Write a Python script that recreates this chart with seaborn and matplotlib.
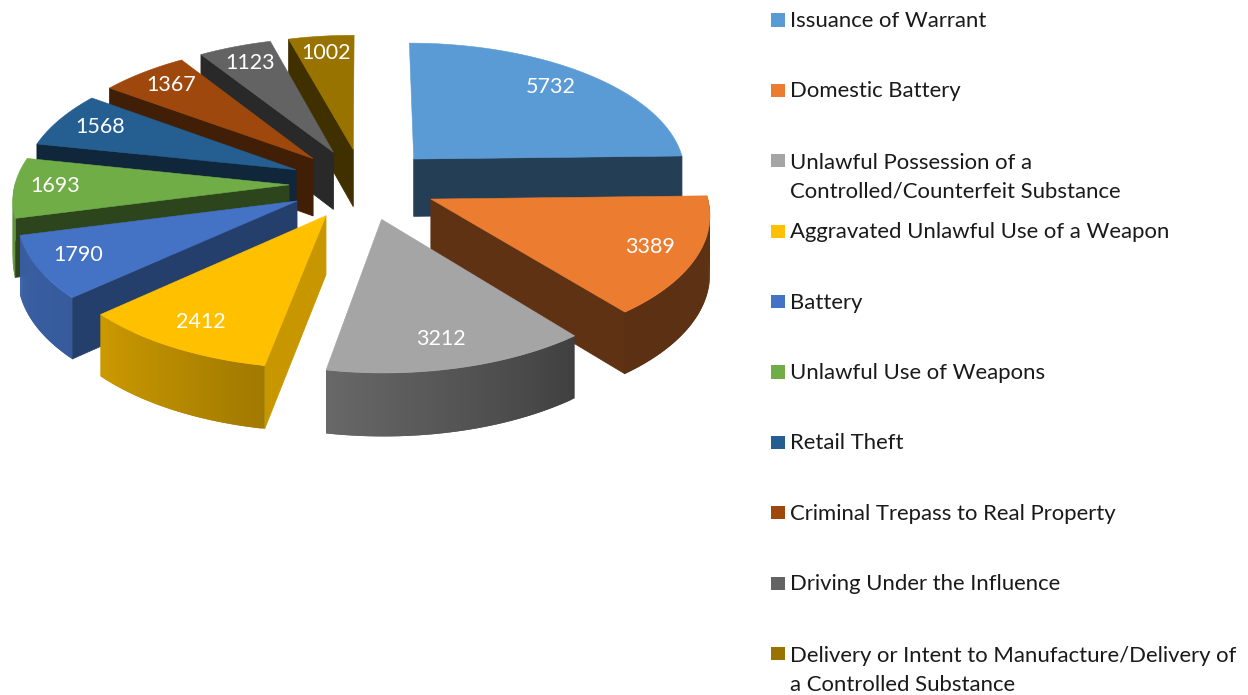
import numpy as np
import pandas as pd
import matplotlib.pyplot as plt
import seaborn as sns

categories = [
    "Issuance of Warrant",
    "Domestic Battery",
    "Unlawful Possession of a\nControlled/Counterfeit Substance",
    "Aggravated Unlawful Use of a Weapon",
    "Battery",
    "Unlawful Use of Weapons",
    "Retail Theft",
    "Criminal Trepass to Real Property",
    "Driving Under the Influence",
    "Delivery or Intent to Manufacture/Delivery of\na Controlled Substance",
]
counts = [5732, 3389, 3212, 2412, 1790, 1693, 1568, 1367, 1123, 1002]
colors = ["#5B9BD5", "#EB7C30", "#A5A5A5", "#FFC000", "#4472C4",
          "#70AD47", "#255E91", "#9E480E", "#636363", "#997300"]
# small hand nudges for the value labels, in pixels
label_nudge = [-8, 1, -4, 0, -5, -6, 1, 1, 0, 0]

sns.set_theme(style="white")
plt.rcParams["font.family"] = ["Lato", "DejaVu Sans"]

W, H = 1248, 695
# camera fitted to the picture: pixels per pie radius, perspective, wall height
CX, CY, FX, FY, PERSP, DEPTH, EXPLODE = 363, 184, 274, 131.6, 0.096, 58, 0.27


def project(x, y, z=0.0):
    s = 1 / (1 + PERSP * y)
    return CX + FX * x * s, CY - FY * y * s + DEPTH * z * s ** 0.7


def shaded(color, k):
    return tuple(c * k for c in sns.color_palette([color])[0])


def wall_shade(deg):
    return np.interp(deg, [90, 141, 190, 228, 270], [0.40, 0.39, 0.63, 0.80, 0.85])


def start_face_shade(deg):
    return np.interp(deg, [190, 228, 254, 360], [0.79, 0.55, 0.40, 0.42])


fig = plt.figure(figsize=(W / 100, H / 100), dpi=100)
ax = fig.add_axes([0, 0, 1, 1])
ax.set_xlim(0, W)
ax.set_ylim(H, 0)
ax.axis("off")

total = sum(counts)
edges = np.concatenate([[0], np.cumsum(counts)]) / total * 360
mids = (edges[:-1] + edges[1:]) / 2

# far slices first so the near ones paint over them
for i in np.argsort(-np.cos(np.radians(mids))):
    a0, a1, mid = edges[i], edges[i + 1], mids[i]
    col = colors[i]
    ox = EXPLODE * np.sin(np.radians(mid))
    oy = EXPLODE * np.cos(np.radians(mid))
    arc = np.linspace(a0, a1, 60)
    arc_x = ox + np.sin(np.radians(arc))
    arc_y = oy + np.cos(np.radians(arc))

    # flat cut faces, only when they look towards the viewer
    for ang, sign in ((a0, -1), (a1, 1)):
        if np.cos(np.radians(ang + sign * 90)) < 0:
            ex = ox + np.sin(np.radians(ang))
            ey = oy + np.cos(np.radians(ang))
            pts = [project(ox, oy), project(ex, ey), project(ex, ey, 1), project(ox, oy, 1)]
            k = start_face_shade(ang) if sign < 0 else 0.40
            ax.fill(*zip(*pts), color=shaded(col, k), lw=0.6, zorder=2)

    # outer wall in short overlapping pieces, this gives the gradient without seams
    for j in range(len(arc) - 1):
        if np.cos(np.radians((arc[j] + arc[j + 1]) / 2)) < 0.02:
            j2 = min(j + 2, len(arc) - 1)
            pts = [project(arc_x[j], arc_y[j]), project(arc_x[j2], arc_y[j2]),
                   project(arc_x[j2], arc_y[j2], 1), project(arc_x[j], arc_y[j], 1)]
            ax.fill(*zip(*pts), facecolor=shaded(col, wall_shade(arc[j])), edgecolor="none",
                    lw=0, zorder=2)

    top = [project(ox, oy)] + [project(x, y) for x, y in zip(arc_x, arc_y)]
    ax.fill(*zip(*top), color=col, lw=0.4, zorder=2)

    lx, ly = project((EXPLODE + 0.83) * np.sin(np.radians(mid)),
                     (EXPLODE + 0.83) * np.cos(np.radians(mid)))
    ax.text(lx + label_nudge[i], ly - 1, str(counts[i]), color="white", fontsize=15.5,
            ha="center", va="center", zorder=5)

# legend rows
legend_rows = 20 + 70.4 * np.arange(len(categories))
legend_df = pd.DataFrame({"x": 778, "y": legend_rows, "cat": categories})
sns.scatterplot(data=legend_df, x="x", y="y", hue="cat", palette=colors, marker="s",
                s=92, linewidth=0, legend=False, ax=ax, zorder=5)
for y, label in zip(legend_rows, categories):
    # matplotlib puts the baseline on the last line of a block
    extra = 30 * label.count("\n")
    ax.text(790, y + 7 + extra, label, color="#1a1a1a", fontsize=15.9, ha="left",
            va="baseline", linespacing=1.56)
ax.set_xlabel("")
ax.set_ylabel("")

fig.savefig("out.png", dpi=100)
